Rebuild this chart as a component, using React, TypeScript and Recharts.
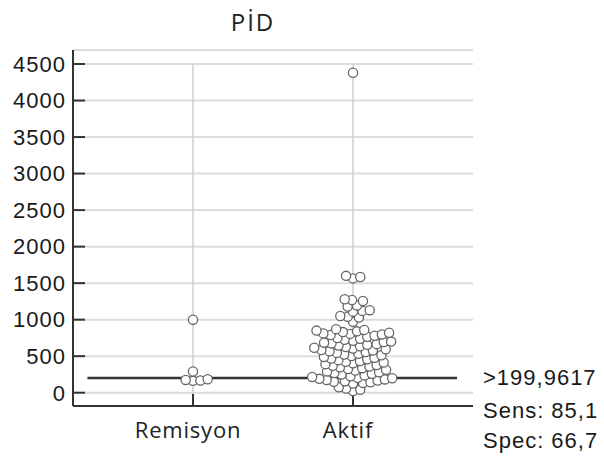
import React from 'react'
import { ScatterChart, Scatter, XAxis, YAxis, CartesianGrid, ReferenceLine } from 'recharts'

const TITLE = 'PİD'
const GROUPS = ['Remisyon', 'Aktif']
const remisyon = [1000, 290, 185, 175, 168, 162]
const aktif = [
  4380,
  1600, 1585, 1565,
  1280, 1270, 1255,
  1195, 1180,
  1130, 1120, 1110,
  1050, 1040, 1030,
  970,
  870, 860, 850, 840, 830, 820, 812, 805, 798, 790,
  780, 765, 750, 738, 725, 712, 700,
  695, 685, 675, 665, 655, 645, 635, 625, 615, 605, 595, 585,
  578, 567, 556, 545, 534, 523, 512, 501, 490, 479, 468, 457,
  446, 435, 424, 413, 402, 391, 380, 369, 358, 347, 336, 325,
  314, 303, 292, 281, 270, 259, 248, 237, 226, 215, 204,
  198, 190, 182, 174, 166, 158, 150, 142, 134, 125,
  75, 58, 40, 22,
]
const Y_TICKS = [0, 500, 1000, 1500, 2000, 2500, 3000, 3500, 4000, 4500]
const CUTOFF = 199.9617
const SENS = '85,1'
const SPEC = '66,7'

const W = 604
const H = 461
const TOP = 50
const BOTTOM = 55
const LEFT = 73
const RIGHT = 131
const Y_DOMAIN: [number, number] = [-182, 4692]
const X_DOMAIN: [number, number] = [0.25, 2.75]
const R = 4.6
const GAP = 7.4 // centre distance at which two dots count as touching (they may overlap a little)

const pxPerY = (H - TOP - BOTTOM) / (Y_DOMAIN[1] - Y_DOMAIN[0])
const pxPerX = (W - LEFT - RIGHT) / (X_DOMAIN[1] - X_DOMAIN[0])

// greedy beeswarm: lowest value first, each dot takes the free offset nearest the group centre
function swarm(values: number[], centre: number) {
  const placed: { dx: number; py: number }[] = []
  return [...values]
    .sort((a, b) => a - b)
    .map((v) => {
      const py = v * pxPerY
      const near = placed.filter((p) => Math.abs(p.py - py) < GAP)
      const cands = [0]
      near.forEach((p) => {
        const s = Math.sqrt(GAP * GAP - (p.py - py) ** 2)
        cands.push(p.dx + s, p.dx - s)
      })
      cands.sort((a, b) => Math.abs(a) - Math.abs(b))
      const dx =
        cands.find((c) => near.every((p) => (p.dx - c) ** 2 + (p.py - py) ** 2 >= GAP * GAP - 1e-6)) ?? 0
      placed.push({ dx, py })
      return { x: centre + dx / pxPerX, y: v }
    })
}

const remisyonPts = swarm(remisyon, 1)
const aktifPts = swarm(aktif, 2)

const Dot = (props: any) => (
  <circle cx={props.cx} cy={props.cy} r={R} fill="#fff" stroke="#666" strokeWidth={1.3} />
)

const CategoryTick = (props: any) => {
  const { x, y, payload } = props
  return (
    <text
      x={x - 5}
      y={y + 32}
      textAnchor="middle"
      fontFamily="'Open Sans', 'Noto Sans', sans-serif"
      fontSize={22}
      letterSpacing={0.8}
      fill="#222"
    >
      {GROUPS[payload.value - 1]}
    </text>
  )
}

const CutoffLabel = (props: any) => {
  const vb = props.viewBox
  const tx = vb.x + vb.width + 26
  return (
    <g fontFamily="'Liberation Sans', Arial, sans-serif" fontSize={22} letterSpacing={1} fill="#1a1a1a">
      <text x={tx} y={vb.y + 7}>{'>' + String(CUTOFF).replace('.', ',')}</text>
      <text x={tx} y={vb.y + 40}>{'Sens: ' + SENS}</text>
      <text x={tx} y={vb.y + 70}>{'Spec: ' + SPEC}</text>
    </g>
  )
}

export default function App() {
  return (
    <div style={{ position: 'absolute', left: 0, top: 0, width: W, height: H, background: '#fff' }}>
      <div
        style={{
          position: 'absolute',
          left: 0,
          top: 6,
          width: 506,
          textAlign: 'center',
          fontFamily: "'Open Sans', 'Noto Sans', sans-serif",
          fontSize: 24,
          lineHeight: '32px',
          letterSpacing: 2,
          color: '#222',
        }}
      >
        {TITLE}
      </div>
      <ScatterChart width={W} height={H} margin={{ top: TOP, right: RIGHT, bottom: 0, left: 0 }}>
        <CartesianGrid vertical={false} stroke="#dcdcdc" strokeWidth={2} />
        <XAxis
          type="number"
          dataKey="x"
          domain={X_DOMAIN}
          allowDataOverflow
          ticks={[1, 2]}
          height={BOTTOM}
          tickSize={-12}
          tickMargin={12}
          axisLine={{ stroke: '#333', strokeWidth: 2 }}
          tickLine={{ stroke: '#333', strokeWidth: 2 }}
          tick={<CategoryTick />}
        />
        <YAxis
          type="number"
          dataKey="y"
          domain={Y_DOMAIN}
          allowDataOverflow
          ticks={Y_TICKS}
          width={LEFT}
          tickSize={-12}
          tickMargin={19}
          axisLine={{ stroke: '#333', strokeWidth: 2 }}
          tickLine={{ stroke: '#333', strokeWidth: 2 }}
          tick={{ fill: '#1a1a1a', fontSize: 22, fontFamily: "'Liberation Sans', Arial, sans-serif", letterSpacing: 1 }}
        />
        {[1, 2].map((c) => (
          <ReferenceLine
            key={c}
            segment={[
              { x: c, y: Y_DOMAIN[0] },
              { x: c, y: 4500 },
            ]}
            stroke="#cfcfcf"
            strokeWidth={1.5}
          />
        ))}
        <Scatter data={remisyonPts} shape={<Dot />} isAnimationActive={false} />
        <Scatter data={aktifPts} shape={<Dot />} isAnimationActive={false} />
        <ReferenceLine
          segment={[
            { x: 0.34, y: CUTOFF },
            { x: 2.65, y: CUTOFF },
          ]}
          stroke="#333"
          strokeWidth={2.5}
          label={CutoffLabel}
        />
      </ScatterChart>
    </div>
  )
}
